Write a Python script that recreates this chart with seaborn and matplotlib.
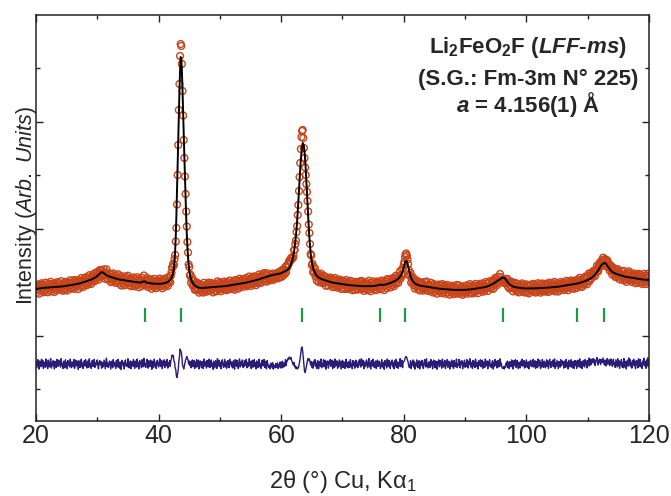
import numpy as np
import pandas as pd
import matplotlib
matplotlib.use("Agg")
import matplotlib.pyplot as plt
import seaborn as sns
from matplotlib.ticker import FixedLocator

# ---- scan grid (2theta, degrees) ----
two_theta_start = 20.0
two_theta_step = 0.1

# ---- calculated profile (arb. units), one value per step from 20.0 to 120.0 ----
y_calc = [
    1320,1321,1322,1323,1324,1325,1326,1327,1328,1329,1330,1330,1331,1331,1332,1332,1333,1333,1334,1334,
    1335,1335,1336,1336,1337,1337,1338,1338,1339,1339,1340,1340,1341,1341,1342,1342,1343,1343,1344,1344,
    1345,1345,1346,1346,1347,1347,1348,1349,1350,1351,1352,1353,1354,1355,1356,1357,1358,1359,1360,1361,
    1362,1363,1364,1365,1366,1367,1369,1370,1372,1373,1375,1376,1378,1379,1381,1382,1384,1386,1388,1390,
    1392,1394,1396,1398,1400,1402,1404,1406,1409,1411,1414,1417,1420,1423,1426,1429,1433,1436,1440,1445,
    1450,1456,1462,1468,1475,1480,1485,1487,1488,1486,1482,1477,1472,1467,1462,1458,1455,1452,1449,1446,
    1444,1442,1440,1438,1436,1434,1432,1430,1428,1426,1425,1423,1422,1420,1419,1417,1416,1414,1413,1411,
    1410,1409,1408,1407,1406,1405,1404,1403,1402,1401,1400,1399,1398,1397,1396,1395,1394,1393,1392,1391,
    1390,1389,1389,1388,1388,1387,1387,1386,1386,1385,1385,1385,1386,1389,1392,1396,1398,1397,1394,1390,
    1386,1384,1382,1381,1380,1379,1378,1377,1376,1375,1375,1374,1374,1373,1373,1372,1372,1372,1372,1372,
    1372,1372,1372,1372,1373,1373,1374,1375,1376,1377,1379,1381,1383,1385,1388,1391,1395,1400,1405,1412,
    1420,1430,1445,1465,1490,1530,1600,1700,1850,2050,2300,2560,2820,3080,3300,3500,3640,3630,3500,3310,
    3080,2860,2650,2440,2230,2040,1870,1740,1640,1565,1510,1470,1440,1418,1400,1388,1378,1369,1362,1356,
    1350,1346,1342,1339,1337,1335,1333,1332,1331,1330,1330,1330,1331,1331,1332,1332,1333,1333,1334,1334,
    1335,1335,1336,1336,1337,1337,1338,1338,1339,1339,1340,1340,1341,1341,1342,1342,1343,1343,1344,1344,
    1345,1345,1346,1346,1347,1347,1348,1348,1349,1349,1350,1351,1352,1353,1354,1355,1356,1357,1358,1359,
    1360,1361,1362,1363,1364,1365,1366,1367,1368,1369,1370,1371,1372,1373,1374,1375,1376,1377,1378,1379,
    1380,1381,1383,1384,1386,1387,1389,1390,1392,1393,1395,1396,1398,1399,1401,1402,1404,1405,1407,1408,
    1410,1412,1414,1416,1418,1420,1422,1424,1426,1428,1430,1432,1434,1436,1438,1440,1442,1444,1446,1448,
    1450,1452,1454,1456,1458,1459,1460,1461,1462,1463,1465,1466,1467,1468,1470,1471,1472,1473,1475,1477,
    1480,1482,1485,1487,1490,1493,1496,1499,1502,1506,1510,1515,1522,1530,1540,1552,1565,1583,1605,1630,
    1660,1695,1740,1790,1850,1920,2000,2095,2200,2310,2420,2520,2610,2680,2730,2780,2770,2750,2700,2620,
    2520,2400,2280,2160,2040,1930,1830,1750,1680,1630,1590,1557,1530,1510,1495,1482,1470,1460,1452,1446,
    1440,1436,1432,1428,1425,1422,1419,1416,1414,1412,1410,1408,1406,1404,1402,1400,1398,1396,1394,1392,
    1390,1388,1387,1385,1384,1383,1382,1381,1380,1379,1378,1377,1376,1375,1374,1373,1372,1371,1370,1369,
    1368,1367,1366,1365,1364,1363,1362,1361,1360,1360,1359,1359,1358,1358,1357,1357,1356,1356,1355,1355,
    1354,1354,1353,1353,1352,1352,1351,1351,1350,1350,1349,1349,1348,1348,1348,1348,1347,1347,1347,1347,
    1347,1347,1347,1347,1348,1348,1348,1348,1349,1349,1350,1350,1351,1351,1352,1353,1354,1356,1358,1360,
    1362,1363,1364,1363,1362,1361,1360,1361,1362,1363,1365,1366,1368,1370,1372,1374,1376,1378,1380,1382,
    1385,1387,1390,1392,1395,1398,1402,1406,1410,1414,1419,1424,1430,1437,1445,1455,1465,1478,1495,1515,
    1540,1563,1585,1598,1600,1592,1575,1552,1525,1497,1470,1448,1430,1416,1405,1396,1388,1382,1376,1372,
    1368,1365,1362,1360,1358,1356,1355,1353,1352,1351,1350,1349,1348,1347,1346,1345,1344,1343,1342,1341,
    1340,1339,1338,1337,1336,1335,1334,1333,1332,1331,1330,1329,1328,1327,1326,1325,1324,1323,1323,1322,
    1322,1321,1321,1320,1320,1319,1319,1318,1318,1317,1317,1316,1316,1315,1315,1314,1314,1313,1313,1312,
    1312,1312,1312,1311,1311,1311,1311,1310,1310,1310,1310,1310,1310,1310,1310,1310,1310,1310,1311,1311,
    1312,1312,1313,1313,1314,1314,1315,1315,1316,1317,1318,1319,1320,1320,1321,1321,1322,1323,1324,1325,
    1326,1327,1328,1329,1330,1331,1332,1333,1334,1335,1336,1337,1338,1339,1341,1343,1345,1347,1349,1352,
    1355,1358,1361,1364,1367,1370,1372,1376,1380,1385,1390,1394,1398,1401,1405,1409,1414,1418,1422,1426,
    1430,1433,1436,1434,1430,1425,1418,1410,1400,1391,1382,1376,1370,1365,1360,1356,1352,1348,1345,1342,
    1340,1339,1338,1337,1336,1335,1334,1333,1332,1331,1330,1329,1329,1328,1328,1327,1327,1326,1326,1325,
    1325,1325,1325,1325,1325,1325,1325,1325,1326,1326,1326,1326,1327,1327,1327,1327,1328,1328,1328,1328,
    1329,1329,1329,1329,1330,1330,1330,1330,1331,1331,1332,1332,1333,1333,1334,1334,1335,1335,1336,1336,
    1337,1337,1338,1338,1339,1339,1340,1340,1341,1341,1342,1342,1343,1343,1344,1345,1346,1347,1348,1349,
    1350,1351,1352,1353,1354,1355,1356,1357,1358,1359,1360,1361,1362,1363,1364,1365,1366,1367,1368,1369,
    1370,1371,1373,1374,1376,1377,1379,1380,1382,1384,1386,1388,1390,1392,1394,1396,1398,1401,1404,1407,
    1410,1413,1416,1419,1423,1426,1430,1435,1440,1445,1450,1457,1464,1472,1480,1488,1497,1506,1515,1526,
    1537,1547,1556,1563,1568,1573,1577,1579,1580,1577,1570,1561,1552,1543,1535,1526,1518,1510,1503,1496,
    1490,1487,1484,1481,1478,1475,1473,1470,1468,1466,1464,1462,1460,1458,1456,1454,1452,1450,1448,1446,
    1445,1443,1442,1441,1440,1438,1437,1436,1435,1434,1433,1432,1431,1430,1429,1428,1427,1426,1425,1424,
    1423,1422,1421,1420,1420,1419,1418,1417,1417,1416,1416,1415,1414,1413,1413,1412,1412,1411,1411,1410,
    1410,
]

# ---- difference curve (obs - calc), same grid ----
y_diff = [
    25,-38,12,44,-15,-52,30,5,-27,48,-10,36,-44,18,2,-33,51,-20,9,-47,
    40,-6,-29,22,55,-41,14,-18,33,-3,-50,27,8,-35,46,-12,-24,39,-8,19,
    -31,53,-17,4,-45,28,11,-39,42,-22,15,-48,34,-9,26,-30,50,-14,-37,21,
    6,-26,45,-43,17,38,-19,-2,29,-54,32,-11,-36,24,49,-28,7,-46,16,35,
    -21,43,-7,-40,13,31,-33,52,-16,3,-44,20,37,-25,-1,47,-34,10,-12,28,
    41,-23,-49,19,34,-8,25,-42,14,-30,-18,39,-5,-47,23,58,-26,11,-35,2,
    30,-14,-51,27,9,-38,44,-20,16,-3,-45,35,12,-29,48,-10,-41,22,5,-56,
    38,-7,19,-33,-50,26,41,-17,0,-28,53,-12,-39,14,31,-46,8,24,-22,45,
    -15,-43,29,6,-31,50,-24,11,-49,36,-2,18,-37,43,-9,-27,57,-19,4,-35,
    21,47,-13,-42,33,-6,-25,40,15,-53,28,-1,-34,49,-18,9,-44,26,37,-11,
    -30,16,52,-23,-8,35,-47,20,-14,42,-36,3,27,-19,46,-41,10,-5,33,-25,
    35,55,90,75,85,30,20,-40,-55,-120,-135,-100,-60,30,70,150,130,120,70,-10,
    -25,-50,-20,5,40,55,75,50,45,0,30,-15,24,-38,12,41,-27,-6,36,-44,
    18,-32,44,-6,-27,39,-50,12,31,-15,-38,26,5,-47,50,-19,23,-9,-41,36,
    11,-29,48,-13,-36,22,41,-24,7,-53,29,-4,-39,33,15,-45,54,-21,-8,38,
    -26,17,-48,27,42,-11,-34,9,46,-30,21,-43,6,35,-18,-37,49,-5,24,-28,
    13,-40,32,-17,-52,44,2,-23,37,-9,-46,19,51,-31,-4,28,-15,40,-36,7,
    -22,34,-11,47,-39,16,-28,-2,53,-19,25,-45,10,38,-33,-8,43,-24,14,-50,
    31,-12,-37,22,48,-27,5,-44,17,39,-20,-6,45,-35,26,-16,-49,34,9,-23,
    -35,-12,-48,8,-30,-22,14,-51,-9,-26,-40,5,-33,-18,12,-45,-7,-28,20,-38,
    19,-40,28,3,-31,10,-22,45,-15,30,30,55,45,70,60,50,65,35,20,0,
    -10,15,-30,-20,-45,-30,-50,-35,-40,-10,20,60,110,160,170,130,60,-20,-70,-85,
    -60,-30,10,40,55,35,50,20,-10,25,-33,16,-42,29,-8,44,-25,6,-47,31,
    33,-47,9,26,-22,51,-38,4,-16,43,-29,14,37,-52,22,-8,31,-41,18,-3,
    45,-24,-11,39,-46,27,6,-33,50,-19,-7,32,-43,16,-28,41,-15,24,-50,10,
    37,-36,21,-2,-44,30,48,-27,13,-39,26,-9,-34,44,-21,3,-48,35,-13,22,
    -42,16,38,-25,7,-37,29,-6,45,-18,-31,52,-14,-3,36,-47,19,-26,8,41,
    -17,-39,24,55,-28,11,-50,33,-4,-21,47,-12,-36,18,30,-44,2,39,-25,14,
    28,-20,-46,9,43,-31,17,-8,-53,35,-14,26,-40,50,-2,-24,37,-11,-45,21,
    -6,40,-29,13,-48,32,-16,47,-35,4,22,-43,11,-19,54,-27,-3,38,-37,16,
    25,30,55,70,75,60,40,20,-15,-35,-20,34,-46,15,-9,41,-30,23,-52,8,
    -23,41,-4,-38,19,33,-50,8,27,-14,36,-27,-45,15,43,-9,-31,52,-20,4,
    -40,23,11,-34,47,-16,28,-48,3,39,-12,-37,30,18,-53,25,-6,42,-29,9,
    34,-21,-42,49,-3,-30,16,37,-46,20,-8,45,-33,6,28,-51,13,-19,40,-26,
    24,-44,35,-10,-28,17,50,-36,2,-15,46,-22,-39,27,-5,33,-48,12,-17,38,
    -33,9,-25,44,-12,-41,29,-1,53,-30,18,-7,-45,36,-20,25,-37,48,-9,-24,
    15,-49,32,-14,7,42,-28,-11,39,-43,21,3,-35,50,-18,-4,31,-47,26,-8,
    43,-26,-2,-38,20,34,-51,14,-22,46,-13,28,-40,9,37,-30,-6,52,-19,11,
    -30,-45,-40,-25,-50,-20,-35,10,-15,30,-38,16,-44,24,3,-27,41,-12,-49,33,
    27,-16,43,-34,9,36,-25,-47,18,5,-39,29,-13,48,-22,-5,34,-41,15,-30,
    41,-8,-36,20,-49,26,-18,38,1,-27,-14,46,-31,11,33,-43,24,-2,-37,50,
    -20,7,39,-46,14,-29,45,-11,-33,28,17,-38,-6,42,-24,30,-45,19,48,-9,
    -35,22,-16,40,-27,4,51,-44,13,-21,36,-10,-48,25,8,-32,44,-18,-3,31,
    12,-41,28,-6,-34,47,-23,15,-50,37,-2,-29,20,43,-15,-39,26,6,-45,34,
    -11,31,-43,18,39,-25,-7,52,-36,10,24,-47,3,35,-19,-30,46,-8,29,-40,
    35,-15,60,-20,25,50,-5,40,15,55,10,45,-15,30,35,65,5,-10,40,20,
    50,-5,30,45,15,60,25,-10,40,35,-20,30,55,-5,20,45,-15,25,50,10,
    -25,30,48,-12,15,-35,42,8,-30,52,-17,33,-44,21,-6,46,-28,12,-39,55,
    4,-33,27,-50,18,38,-21,61,-9,44,-26,14,-41,35,-3,48,-19,29,-47,20,
    37,-12,-38,52,-24,16,45,-30,8,-46,31,-7,58,-20,23,-43,40,-15,62,-28,
    30,
]

# ---- Bragg reflection positions (Fm-3m) ----
bragg_positions = [37.8, 43.65, 63.4, 76.1, 80.2, 96.2, 108.3, 112.7]
bragg_level = 1060
diff_offset = 570

x_ticks = [20, 40, 60, 80, 100, 120]
x_minor = [30, 50, 70, 90, 110]

# ---- build the frame ----
n = len(y_calc)
assert len(y_diff) == n, (len(y_calc), len(y_diff))
two_theta = np.round(two_theta_start + two_theta_step * np.arange(n), 2)
calc = np.array(y_calc, dtype=float)
diff = np.array(y_diff, dtype=float)
df = pd.DataFrame({
    "two_theta": two_theta,
    "obs": calc + diff,
    "calc": calc,
    "diff": diff + diff_offset,
})

sns.set_style("ticks")
plt.rcParams["font.family"] = ["Liberation Sans", "DejaVu Sans"]
plt.rcParams["mathtext.fontset"] = "custom"
plt.rcParams["mathtext.rm"] = "Liberation Sans"
plt.rcParams["mathtext.it"] = "Liberation Sans:italic"
plt.rcParams["mathtext.bf"] = "Liberation Sans:bold"
plt.rcParams["mathtext.bfit"] = "Liberation Sans:italic:bold"

W, H = 671, 496
fig = plt.figure(figsize=(W / 100, H / 100), dpi=100)
ax = fig.add_axes([36 / W, 1 - 421 / H, 613 / W, 406 / H])

obs_color = "#C8441A"
diff_color = "#2A1C78"
bragg_color = "#1E9A46"

sns.scatterplot(data=df, x="two_theta", y="obs", ax=ax, marker="o", s=24,
                facecolors="none", edgecolor=obs_color, linewidth=1.0,
                zorder=2, legend=False)
sns.lineplot(data=df, x="two_theta", y="calc", ax=ax, color="black", lw=1.4,
             estimator=None, sort=False, zorder=3, legend=False)
sns.lineplot(data=df, x="two_theta", y="diff", ax=ax, color=diff_color, lw=1.0,
             estimator=None, sort=False, zorder=2, legend=False)
ax.vlines(bragg_positions, bragg_level - 70, bragg_level + 70,
          color=bragg_color, lw=1.6, zorder=2)

ax.set_xlim(20, 120)
ax.set_ylim(0, 4060)
ax.xaxis.set_major_locator(FixedLocator(x_ticks))
ax.xaxis.set_minor_locator(FixedLocator(x_minor))
ax.yaxis.set_major_locator(FixedLocator([850, 1920, 2990]))
ax.yaxis.set_minor_locator(FixedLocator([320, 1390, 2460, 3530]))
ax.tick_params(which="both", direction="in", top=True, right=True,
               labelleft=False, width=1.0, color="#222222")
ax.tick_params(which="major", length=5)
ax.tick_params(which="minor", length=3)
ax.tick_params(axis="x", labelsize=18, pad=2)
for sp in ax.spines.values():
    sp.set_linewidth(1.1)
    sp.set_color("#222222")

ax.set_xlabel("2θ (°) Cu, Kα$_1$", fontsize=17, labelpad=14.5)
ax.set_ylabel(r"Intensity ($\mathit{Arb.\ Units}$)", fontsize=15.5)
ax.yaxis.set_label_coords(0.005, 0.53)

tx = 528 / W
fig.text(tx, 1 - 53 / H, r"Li$_\mathbf{2}$FeO$_\mathbf{2}$F ($\mathbfit{LFF}$-$\mathbfit{ms}$)",
         ha="center", va="baseline", fontsize=16, fontweight="bold")
fig.text(tx, 1 - 85 / H, "(S.G.: Fm-3m N° 225)",
         ha="center", va="baseline", fontsize=16, fontweight="bold")
fig.text(tx, 1 - 112 / H, r"$\mathbfit{a}$ = 4.156(1) Å",
         ha="center", va="baseline", fontsize=16, fontweight="bold")

fig.savefig("out.png", dpi=100)
